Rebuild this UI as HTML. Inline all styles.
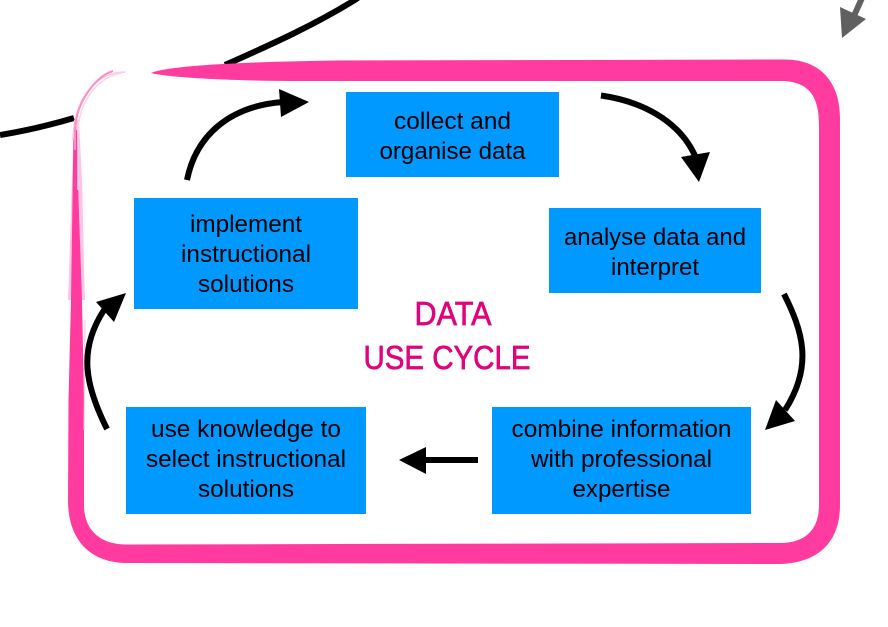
<!DOCTYPE html>
<html>
<head>
<meta charset="utf-8">
<style>
html,body{margin:0;padding:0;background:#fff;width:888px;height:627px;overflow:hidden}
svg{display:block}
.t{font-family:"Liberation Sans",sans-serif;font-size:24px;fill:#000;text-anchor:middle}
.h{font-family:"Liberation Sans",sans-serif;font-size:33px;fill:#e0047c;stroke:#e0047c;stroke-width:.7;text-anchor:middle}
</style>
</head>
<body>
<svg width="888" height="627" viewBox="0 0 888 627" xmlns="http://www.w3.org/2000/svg">
<rect width="888" height="627" fill="#fff"/>
<!-- background curve -->
<path d="M0,135 C25,131 50,125 74,118" fill="none" stroke="#000" stroke-width="6"/>
<path d="M225,65 C270,45 315,25 358,-2" fill="none" stroke="#000" stroke-width="6"/>
<!-- gray arrow -->
<path d="M862,-2 L853,18" fill="none" stroke="#606060" stroke-width="6"/>
<polygon points="842,38 840,7 866,19" fill="#606060"/>
<!-- pink frame -->
<polygon points="68,300 72,180 74,120 79,120 82,180 85,300" fill="#ffc4e2"/>
<path d="M151,73 C165,67 220,62 340,60.5 L785,59.5 C820,59.5 840,82 840,118 L840,505 C840,545 815,563 780,564 L125,563 C90,562 68,540 68,500 L68.500,400 L71,300 L72.500,200 L73.500,130 L77,130 L78.500,200 L82,300 L84,400 L84,505 C84,530 100,544 125,544.500 L780,543 C805,543 819,530 819,505 L819,125 C819,95 808,81 780,81 L300,81 C240,81 170,78 151,73 Z" fill="#ff3ba0"/>
<path d="M73,140 C74,100 95,72 125,72" fill="none" stroke="#ffc4e2" stroke-width="1.500"/>
<path d="M75,150 L75,130 C76,100 98,75 113,71" fill="none" stroke="#ff8cc6" stroke-width="2"/>
<path d="M78,190 L78,130 C80,100 98,77 122,73" fill="none" stroke="#ffd4ea" stroke-width="1.500"/>
<path d="M84,430 L85,320" fill="none" stroke="#ffc4e2" stroke-width="1"/>
<!-- boxes -->
<rect x="346" y="92" width="213" height="85" fill="#0099ff"/>
<rect x="549" y="208" width="212" height="85" fill="#0099ff"/>
<rect x="134" y="198" width="224" height="111" fill="#0099ff"/>
<rect x="126" y="407" width="240" height="107" fill="#0099ff"/>
<rect x="492" y="407" width="259" height="107" fill="#0099ff"/>
<!-- text -->
<text class="t" x="452.500" y="129" textLength="117" lengthAdjust="spacingAndGlyphs">collect and</text>
<text class="t" x="452.500" y="159" textLength="146" lengthAdjust="spacingAndGlyphs">organise data</text>
<text class="t" x="655" y="245" textLength="182" lengthAdjust="spacingAndGlyphs">analyse data and</text>
<text class="t" x="655" y="275" textLength="88" lengthAdjust="spacingAndGlyphs">interpret</text>
<text class="t" x="246" y="232" textLength="112" lengthAdjust="spacingAndGlyphs">implement</text>
<text class="t" x="246" y="262" textLength="130" lengthAdjust="spacingAndGlyphs">instructional</text>
<text class="t" x="246" y="292" textLength="96" lengthAdjust="spacingAndGlyphs">solutions</text>
<text class="t" x="246" y="437" textLength="190" lengthAdjust="spacingAndGlyphs">use knowledge to</text>
<text class="t" x="246" y="467" textLength="200" lengthAdjust="spacingAndGlyphs">select instructional</text>
<text class="t" x="246" y="497" textLength="96" lengthAdjust="spacingAndGlyphs">solutions</text>
<text class="t" x="621.500" y="437" textLength="220" lengthAdjust="spacingAndGlyphs">combine information</text>
<text class="t" x="621.500" y="467" textLength="181" lengthAdjust="spacingAndGlyphs">with professional</text>
<text class="t" x="621.500" y="497" textLength="98" lengthAdjust="spacingAndGlyphs">expertise</text>
<text class="h" x="453" y="325" textLength="77" lengthAdjust="spacingAndGlyphs">DATA</text>
<text class="h" x="447" y="369" textLength="167" lengthAdjust="spacingAndGlyphs">USE CYCLE</text>
<!-- arrows -->
<g fill="none" stroke="#000" stroke-width="6">
<path d="M187,180 C196,135 230,106 283,102"/>
<path d="M601,95.500 C640,101 680,120 696,158"/>
<path d="M784,294 C802,330 814,365 785,410"/>
<path d="M478,460 L424,460"/>
<path d="M107,429 C85,385 78,350 104,310"/>
</g>
<g fill="#000">
<polygon points="309,102 279,89 281,117"/>
<polygon points="699,182 681,157 710,152"/>
<polygon points="765,430 776,400 795,421"/>
<polygon points="399,460 426,447 426,474"/>
<polygon points="126,293 96,302 114,322"/>
</g>
</svg>
</body>
</html>
